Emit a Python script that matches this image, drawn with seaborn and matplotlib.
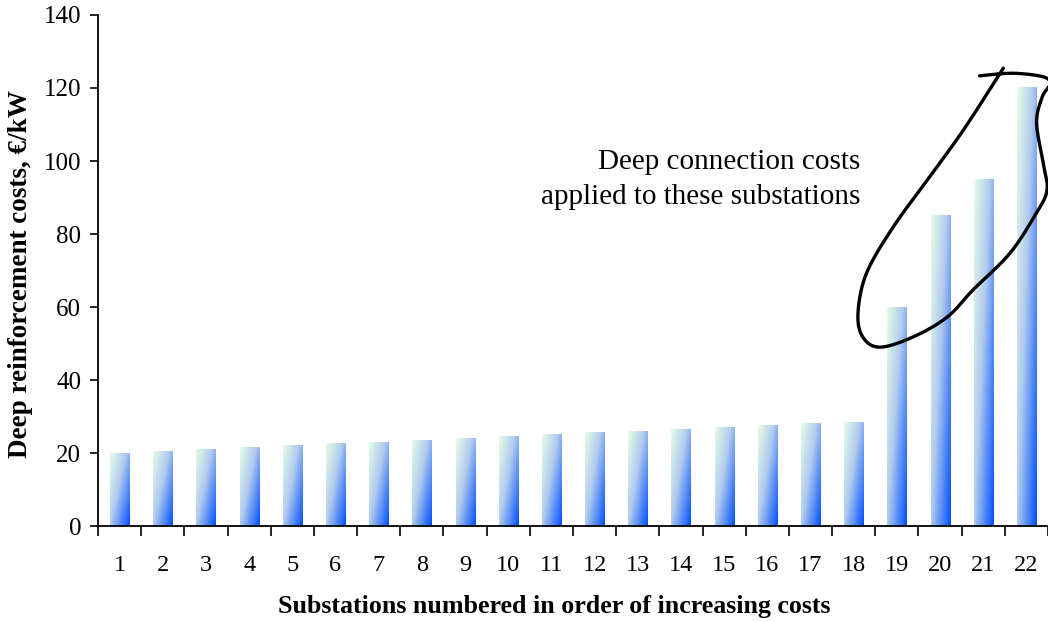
import numpy as np
import pandas as pd
import matplotlib
matplotlib.use("Agg")
import matplotlib.pyplot as plt
from matplotlib.colors import LinearSegmentedColormap
import seaborn as sns

# substations and their deep reinforcement cost (EUR/kW)
substations = [str(i) for i in range(1, 23)]
costs = [20.0, 20.5, 21.1, 21.6, 22.2, 22.7, 23.0, 23.6, 24.1, 24.7, 25.2,
         25.8, 26.0, 26.6, 27.1, 27.7, 28.2, 28.5, 60.0, 85.2, 95.1, 120.3]
y_ticks = [0, 20, 40, 60, 80, 100, 120, 140]

df = pd.DataFrame({"Substation": substations, "Cost": costs})

sns.set_style("white")
plt.rcParams["font.family"] = ["Liberation Serif", "DejaVu Serif"]
plt.rcParams["text.color"] = "black"
plt.rcParams["axes.labelcolor"] = "black"
plt.rcParams["xtick.color"] = "black"
plt.rcParams["ytick.color"] = "black"

fig = plt.figure(figsize=(10.48, 6.22), dpi=100)
ax = fig.add_axes([0.0935, 0.1543, 0.9065, 0.8216])

sns.barplot(data=df, x="Substation", y="Cost", width=0.44, ax=ax,
            color="white", linewidth=0)

# diagonal gradient fill: pale mint top-left -> vivid blue bottom-right
cmap = LinearSegmentedColormap.from_list(
    "bar_grad", [(0.0, "#e6fde6"), (0.45, "#b0caef"), (1.0, "#0050ff")])
ny, nx = 200, 40
gx, gy = np.meshgrid(np.linspace(0, 1, nx), np.linspace(0, 1, ny))
grad = 0.55 * gx + 0.45 * gy
for p in ax.patches:
    x0, y0 = p.get_x(), p.get_y()
    w, h = p.get_width(), p.get_height()
    p.set_facecolor("none")
    im = ax.imshow(grad, cmap=cmap, vmin=0, vmax=1, origin="upper",
                   extent=[x0, x0 + w, y0, y0 + h], aspect="auto",
                   interpolation="bilinear", zorder=2)
    im.set_clip_path(p)

ax.set_xlim(-0.5, len(substations) - 0.5)
ax.set_ylim(0, 140)
ax.set_yticks(y_ticks)

# ticks between categories, labels at category centres
ax.set_xticks(np.arange(-0.5, len(substations), 1.0))
ax.set_xticklabels([])
ax.set_xticks(np.arange(len(substations)), minor=True)
ax.set_xticklabels(substations, minor=True)
ax.tick_params(axis="x", which="major", direction="out", length=7, width=1.2,
               color="black", bottom=True)
ax.tick_params(axis="x", which="minor", length=0, pad=21, labelsize=17.5)
ax.tick_params(axis="y", direction="out", length=6, width=1.2, color="black",
               left=True, pad=6, labelsize=18)

sns.despine(ax=ax)
for s in ["left", "bottom"]:
    ax.spines[s].set_color("black")
    ax.spines[s].set_linewidth(1.3)

ax.set_xlabel("Substations numbered in order of increasing costs",
              fontsize=18.7, fontweight="bold")
ax.set_ylabel("Deep reinforcement costs, €/kW", fontsize=19.5, fontweight="bold")
ax.xaxis.set_label_coords(0.48, -0.135)
ax.yaxis.set_label_coords(-0.068, 0.493)

ax.text(0.802, 0.713, "Deep connection costs", transform=ax.transAxes,
        ha="right", va="center", fontsize=21)
ax.text(0.802, 0.644, "applied to these substations", transform=ax.transAxes,
        ha="right", va="center", fontsize=21)

# hand-drawn loop around the last four substations (axes fractions)
loop = np.array([
    (0.928, 0.881), (0.963, 0.886), (0.995, 0.879), (1.002, 0.865),
    (0.994, 0.840), (0.988, 0.789), (0.995, 0.710), (0.999, 0.658),
    (0.988, 0.613), (0.960, 0.534), (0.921, 0.462), (0.894, 0.409),
    (0.858, 0.370), (0.823, 0.350), (0.805, 0.370), (0.800, 0.417),
    (0.809, 0.495), (0.837, 0.585), (0.873, 0.677), (0.911, 0.775),
    (0.953, 0.896)])


def catmull_rom(pts, n=20):
    pts = np.vstack([pts[0], pts, pts[-1]])
    out = []
    for i in range(1, len(pts) - 2):
        p0, p1, p2, p3 = pts[i - 1], pts[i], pts[i + 1], pts[i + 2]
        t = np.linspace(0, 1, n, endpoint=False)[:, None]
        out.append(0.5 * ((2 * p1) + (-p0 + p2) * t
                          + (2 * p0 - 5 * p1 + 4 * p2 - p3) * t ** 2
                          + (-p0 + 3 * p1 - 3 * p2 + p3) * t ** 3))
    out.append(pts[-2][None, :])
    return np.vstack(out)


smooth = catmull_rom(loop)
ax.plot(smooth[:, 0], smooth[:, 1], color="black", lw=2.4,
        transform=ax.transAxes, clip_on=False, zorder=5,
        solid_capstyle="round")

fig.savefig("out.png", dpi=100)
